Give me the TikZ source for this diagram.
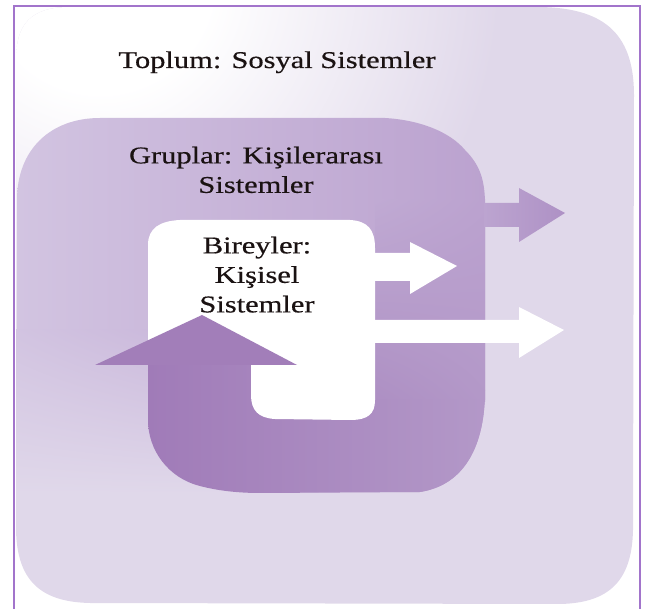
\documentclass[tikz,border=0pt]{standalone}
\usepackage{fontspec}
\setmainfont{Liberation Serif}[FakeStretch=1.27, FakeBold=0.5]
\usetikzlibrary{shadings}
\definecolor{bordercol}{HTML}{A274CB}
\definecolor{lavout}{HTML}{E0D8EA}
\definecolor{grpleft}{HTML}{D2C4E1}
\definecolor{grpmid}{HTML}{C6B2D8}
\definecolor{grpnear}{HTML}{C0AAD3}
\definecolor{grpright}{HTML}{BBA2CF}
\definecolor{armbotl}{HTML}{AD8FC3}
\definecolor{darkleft}{HTML}{A07BB8}
\definecolor{darkright}{HTML}{B398C8}
\definecolor{headcol}{HTML}{A27EB9}
\definecolor{arrleft}{HTML}{BCA4D0}
\definecolor{arrright}{HTML}{AE91C5}
\definecolor{txtcol}{HTML}{1A1212}
\pgfdeclareradialshading{glow}{\pgfpoint{0bp}{0bp}}{color(0bp)=(white); color(7bp)=(white); color(25bp)=(lavout); color(50bp)=(lavout)}
\begin{document}
\begin{tikzpicture}[x=1pt,y=-1pt,
  lbl/.style={text=txtcol, font=\fontsize{24pt}{29.5pt}\selectfont, inner sep=0pt, align=center},
  whitearrow/.style={fill=white, draw=none}]
\useasboundingbox (0,0) rectangle (646,609);
% outer society shape
\fill[lavout] (16,60) .. controls (16,25) and (30,7) .. (70,7) -- (540,7)
  .. controls (600,8) and (634,30) .. (634,95) -- (633,530)
  .. controls (632,580) and (610,603) .. (560,604) -- (90,603)
  .. controls (40,602) and (17,580) .. (16,530) -- cycle;
\begin{scope}
\clip (16,60) .. controls (16,25) and (30,7) .. (70,7) -- (540,7)
  .. controls (600,8) and (634,30) .. (634,95) -- (633,530)
  .. controls (632,580) and (610,603) .. (560,604) -- (90,603)
  .. controls (40,602) and (17,580) .. (16,530) -- cycle;
\shade[shading=glow] (100,-20) circle[radius=400pt];
% groups shape
\shade[left color=grpleft, right color=grpright]
  (17,200) .. controls (17,150) and (50,118) .. (100,118) -- (385,118)
  .. controls (420,120) and (450,132) .. (465,150)
  .. controls (480,165) and (485,180) .. (485,205) -- (485,390)
  .. controls (485,445) and (465,485) .. (420,492) -- (17,493) -- cycle;
% lower-left part of the groups shape fading into the society shape
\shade[upper left=grpleft, upper right=grpmid, lower left=lavout, lower right=lavout]
  (10,330) rectangle (260,494);
\end{scope}
% right arm of the U-turn, blending into the groups shape
\shade[upper left=grpnear, upper right=grpright, lower left=armbotl, lower right=darkright]
  (375,200) rectangle (485,402);
% dark U-turn body
\shade[left color=darkleft, right color=darkright]
  (148,365) -- (148,420) .. controls (148,450) and (168,478) .. (200,486)
  .. controls (215,490) and (235,493) .. (260,493) -- (420,492)
  .. controls (465,485) and (485,445) .. (485,390) -- (485,400) -- (375,400)
  -- (375,365) -- cycle;
% individuals (white) shape
\fill[white] (148,245) .. controls (148,228) and (160,221) .. (180,220) -- (350,220)
  .. controls (368,221) and (375,230) .. (375,248) -- (375,400)
  .. controls (375,414) and (368,420) .. (350,420) -- (275,419)
  .. controls (258,418) and (251,410) .. (251,395) -- (251,365) -- (148,365) -- cycle;
% arrowhead of the U-turn
\fill[headcol] (95,365) -- (202,315) -- (297,365) -- cycle;
% white arrows
\fill[whitearrow] (370,253) -- (410,253) -- (410,242) -- (457,266) -- (410,294)
  -- (410,281) -- (370,281) -- cycle;
\fill[whitearrow] (370,320) -- (519,320) -- (519,307) -- (564,330) -- (519,358)
  -- (519,343) -- (370,343) -- cycle;
% purple arrow
\shade[left color=arrleft, right color=arrright] (484,203) -- (519,203) -- (519,188)
  -- (565,213) -- (519,242) -- (519,227) -- (484,227) -- cycle;
% texts
\node[lbl, anchor=base] (toplum) at (277,68) {Toplum: Sosyal Sistemler};
\node[lbl, anchor=north] (gruplar) at (256,146.5) {Gruplar: Kişilerarası\\Sistemler};
\node[lbl, anchor=north] (bireyler) at (257,236.5) {Bireyler:\\Kişisel\\Sistemler};
% frame
\draw[bordercol, line width=2pt] (14,620) -- (14,6) -- (640,6) -- (640,620);
\end{tikzpicture}
\end{document}
